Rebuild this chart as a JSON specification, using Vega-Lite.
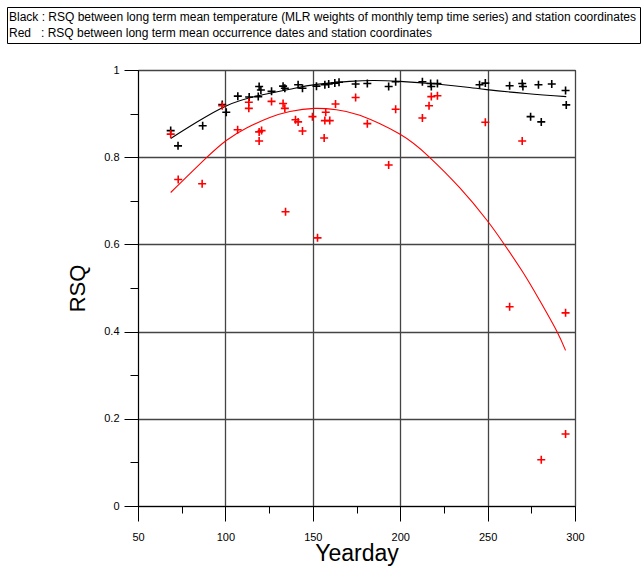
{
  "$schema": "https://vega.github.io/schema/vega-lite/v6.json",
  "width": 437,
  "height": 436,
  "autosize": "none",
  "padding": {"left": 138, "top": 70, "right": 68, "bottom": 61},
  "background": "white",
  "config": {
    "font": "Liberation Sans",
    "view": {"stroke": "black", "strokeWidth": 1}
  },
  "datasets": {
    "stations": [
      {"day": 68.7, "rsq": 0.861, "series": "Black"},
      {"day": 72.9, "rsq": 0.826, "series": "Black"},
      {"day": 87.0, "rsq": 0.872, "series": "Black"},
      {"day": 98.2, "rsq": 0.921, "series": "Black"},
      {"day": 100.5, "rsq": 0.903, "series": "Black"},
      {"day": 107.1, "rsq": 0.940, "series": "Black"},
      {"day": 113.6, "rsq": 0.938, "series": "Black"},
      {"day": 118.8, "rsq": 0.939, "series": "Black"},
      {"day": 119.3, "rsq": 0.962, "series": "Black"},
      {"day": 120.3, "rsq": 0.954, "series": "Black"},
      {"day": 126.4, "rsq": 0.951, "series": "Black"},
      {"day": 133.0, "rsq": 0.963, "series": "Black"},
      {"day": 134.0, "rsq": 0.958, "series": "Black"},
      {"day": 141.6, "rsq": 0.966, "series": "Black"},
      {"day": 144.1, "rsq": 0.958, "series": "Black"},
      {"day": 152.1, "rsq": 0.963, "series": "Black"},
      {"day": 156.9, "rsq": 0.966, "series": "Black"},
      {"day": 159.1, "rsq": 0.968, "series": "Black"},
      {"day": 162.6, "rsq": 0.970, "series": "Black"},
      {"day": 165.0, "rsq": 0.972, "series": "Black"},
      {"day": 174.5, "rsq": 0.968, "series": "Black"},
      {"day": 181.2, "rsq": 0.969, "series": "Black"},
      {"day": 193.4, "rsq": 0.962, "series": "Black"},
      {"day": 197.4, "rsq": 0.973, "series": "Black"},
      {"day": 212.7, "rsq": 0.973, "series": "Black"},
      {"day": 217.4, "rsq": 0.969, "series": "Black"},
      {"day": 217.8, "rsq": 0.962, "series": "Black"},
      {"day": 221.3, "rsq": 0.969, "series": "Black"},
      {"day": 245.4, "rsq": 0.966, "series": "Black"},
      {"day": 248.7, "rsq": 0.970, "series": "Black"},
      {"day": 262.6, "rsq": 0.964, "series": "Black"},
      {"day": 269.8, "rsq": 0.969, "series": "Black"},
      {"day": 270.2, "rsq": 0.962, "series": "Black"},
      {"day": 274.6, "rsq": 0.893, "series": "Black"},
      {"day": 279.1, "rsq": 0.966, "series": "Black"},
      {"day": 280.7, "rsq": 0.881, "series": "Black"},
      {"day": 286.7, "rsq": 0.968, "series": "Black"},
      {"day": 294.6, "rsq": 0.953, "series": "Black"},
      {"day": 295.0, "rsq": 0.920, "series": "Black"},
      {"day": 68.7, "rsq": 0.853, "series": "Red"},
      {"day": 73.0, "rsq": 0.749, "series": "Red"},
      {"day": 86.7, "rsq": 0.739, "series": "Red"},
      {"day": 98.2, "rsq": 0.918, "series": "Red"},
      {"day": 107.0, "rsq": 0.863, "series": "Red"},
      {"day": 113.4, "rsq": 0.926, "series": "Red"},
      {"day": 113.4, "rsq": 0.912, "series": "Red"},
      {"day": 119.3, "rsq": 0.858, "series": "Red"},
      {"day": 119.3, "rsq": 0.837, "series": "Red"},
      {"day": 120.7, "rsq": 0.861, "series": "Red"},
      {"day": 126.4, "rsq": 0.928, "series": "Red"},
      {"day": 133.0, "rsq": 0.923, "series": "Red"},
      {"day": 134.0, "rsq": 0.912, "series": "Red"},
      {"day": 134.4, "rsq": 0.675, "series": "Red"},
      {"day": 140.1, "rsq": 0.886, "series": "Red"},
      {"day": 141.6, "rsq": 0.881, "series": "Red"},
      {"day": 144.1, "rsq": 0.860, "series": "Red"},
      {"day": 149.8, "rsq": 0.893, "series": "Red"},
      {"day": 152.7, "rsq": 0.615, "series": "Red"},
      {"day": 156.5, "rsq": 0.844, "series": "Red"},
      {"day": 157.4, "rsq": 0.903, "series": "Red"},
      {"day": 156.9, "rsq": 0.884, "series": "Red"},
      {"day": 159.7, "rsq": 0.884, "series": "Red"},
      {"day": 163.0, "rsq": 0.922, "series": "Red"},
      {"day": 174.5, "rsq": 0.937, "series": "Red"},
      {"day": 181.2, "rsq": 0.877, "series": "Red"},
      {"day": 193.4, "rsq": 0.782, "series": "Red"},
      {"day": 197.4, "rsq": 0.910, "series": "Red"},
      {"day": 212.7, "rsq": 0.890, "series": "Red"},
      {"day": 216.5, "rsq": 0.918, "series": "Red"},
      {"day": 217.8, "rsq": 0.939, "series": "Red"},
      {"day": 221.3, "rsq": 0.941, "series": "Red"},
      {"day": 248.7, "rsq": 0.880, "series": "Red"},
      {"day": 262.6, "rsq": 0.457, "series": "Red"},
      {"day": 269.8, "rsq": 0.837, "series": "Red"},
      {"day": 280.7, "rsq": 0.106, "series": "Red"},
      {"day": 294.6, "rsq": 0.443, "series": "Red"},
      {"day": 294.6, "rsq": 0.165, "series": "Red"}
    ],
    "fits": [
      {"day": 68.7, "rsq": 0.843, "series": "Black"},
      {"day": 83.5, "rsq": 0.880, "series": "Black"},
      {"day": 100.7, "rsq": 0.918, "series": "Black"},
      {"day": 117.8, "rsq": 0.940, "series": "Black"},
      {"day": 136.9, "rsq": 0.956, "series": "Black"},
      {"day": 152.1, "rsq": 0.967, "series": "Black"},
      {"day": 171.0, "rsq": 0.974, "series": "Black"},
      {"day": 185.0, "rsq": 0.976, "series": "Black"},
      {"day": 199.7, "rsq": 0.974, "series": "Black"},
      {"day": 220.7, "rsq": 0.968, "series": "Black"},
      {"day": 239.7, "rsq": 0.960, "series": "Black"},
      {"day": 249.5, "rsq": 0.955, "series": "Black"},
      {"day": 272.0, "rsq": 0.946, "series": "Black"},
      {"day": 295.0, "rsq": 0.939, "series": "Black"},
      {"day": 68.7, "rsq": 0.719, "series": "Red"},
      {"day": 89.2, "rsq": 0.799, "series": "Red"},
      {"day": 100.7, "rsq": 0.839, "series": "Red"},
      {"day": 112.1, "rsq": 0.867, "series": "Red"},
      {"day": 125.4, "rsq": 0.891, "series": "Red"},
      {"day": 136.9, "rsq": 0.905, "series": "Red"},
      {"day": 151.1, "rsq": 0.912, "series": "Red"},
      {"day": 163.5, "rsq": 0.909, "series": "Red"},
      {"day": 176.9, "rsq": 0.896, "series": "Red"},
      {"day": 199.7, "rsq": 0.853, "series": "Red"},
      {"day": 215.9, "rsq": 0.803, "series": "Red"},
      {"day": 234.0, "rsq": 0.730, "series": "Red"},
      {"day": 249.5, "rsq": 0.656, "series": "Red"},
      {"day": 258.7, "rsq": 0.605, "series": "Red"},
      {"day": 270.2, "rsq": 0.536, "series": "Red"},
      {"day": 279.7, "rsq": 0.472, "series": "Red"},
      {"day": 289.3, "rsq": 0.403, "series": "Red"},
      {"day": 294.6, "rsq": 0.357, "series": "Red"}
    ]
  },
  "encoding": {
    "x": {
      "field": "day",
      "type": "quantitative",
      "scale": {"domain": [50, 300], "nice": false, "zero": false},
      "axis": {
        "title": "Yearday",
        "titleFontSize": 23,
        "titleFontWeight": "normal",
        "titleColor": "black",
        "titlePadding": 0,
        "values": [50, 75, 100, 125, 150, 175, 200, 225, 250, 275, 300],
        "labelExpr": "datum.value % 50 == 0 ? datum.label : ''",
        "labelFontSize": 11,
        "labelColor": "black",
        "labelPadding": 10,
        "labelFlush": false,
        "labelOverlap": false,
        "domainColor": "black",
        "tickColor": "black",
        "tickSize": {"condition": {"test": "datum.value % 50 == 0", "value": 15}, "value": 7},
        "grid": true,
        "gridColor": "#444444",
        "gridWidth": 1.3,
        "gridOpacity": {"condition": {"test": "datum.value % 50 == 0", "value": 1}, "value": 0}
      }
    },
    "y": {
      "field": "rsq",
      "type": "quantitative",
      "scale": {"domain": [0, 1], "nice": false},
      "axis": {
        "title": "RSQ",
        "titleFontSize": 22,
        "titleFontWeight": "normal",
        "titleColor": "black",
        "titlePadding": 14,
        "values": [0, 0.1, 0.2, 0.3, 0.4, 0.5, 0.6, 0.7, 0.8, 0.9, 1],
        "format": "~g",
        "labelExpr": "round(datum.value * 10) % 2 == 0 ? datum.label : ''",
        "labelFontSize": 11,
        "labelColor": "black",
        "labelPadding": 5,
        "labelFlush": false,
        "labelOverlap": false,
        "domainColor": "black",
        "tickColor": "black",
        "tickSize": {"condition": {"test": "round(datum.value * 10) % 2 == 0", "value": 14}, "value": 8},
        "grid": true,
        "gridColor": "#444444",
        "gridWidth": 1.3,
        "gridOpacity": {"condition": {"test": "round(datum.value * 10) % 2 == 0", "value": 1}, "value": 0}
      }
    },
    "color": {
      "field": "series",
      "type": "nominal",
      "scale": {"domain": ["Black", "Red"], "range": ["black", "red"]},
      "legend": {
        "orient": "none",
        "legendX": -131,
        "legendY": -63,
        "title": null,
        "labelExpr": "datum.label == 'Black' ? 'Black : RSQ between long term mean temperature (MLR weights of monthly temp time series) and station coordinates' : 'Red\u00a0\u00a0\u00a0: RSQ between long term mean occurrence dates and station coordinates'",
        "labelLimit": 0,
        "labelFontSize": 12,
        "labelColor": "black",
        "labelOffset": -14,
        "symbolSize": 1,
        "symbolOpacity": 0,
        "symbolStrokeWidth": 0,
        "padding": 4,
        "rowPadding": 4,
        "strokeColor": "black",
        "fillColor": "white"
      }
    }
  },
  "layer": [
    {
      "data": {"name": "fits"},
      "mark": {"type": "line", "interpolate": "natural", "strokeWidth": 1.1}
    },
    {
      "data": {"name": "stations"},
      "mark": {
        "type": "point",
        "shape": "M-1,0L1,0M0,-1L0,1",
        "filled": false,
        "size": 64,
        "strokeWidth": 1.6,
        "opacity": 1
      }
    }
  ]
}
